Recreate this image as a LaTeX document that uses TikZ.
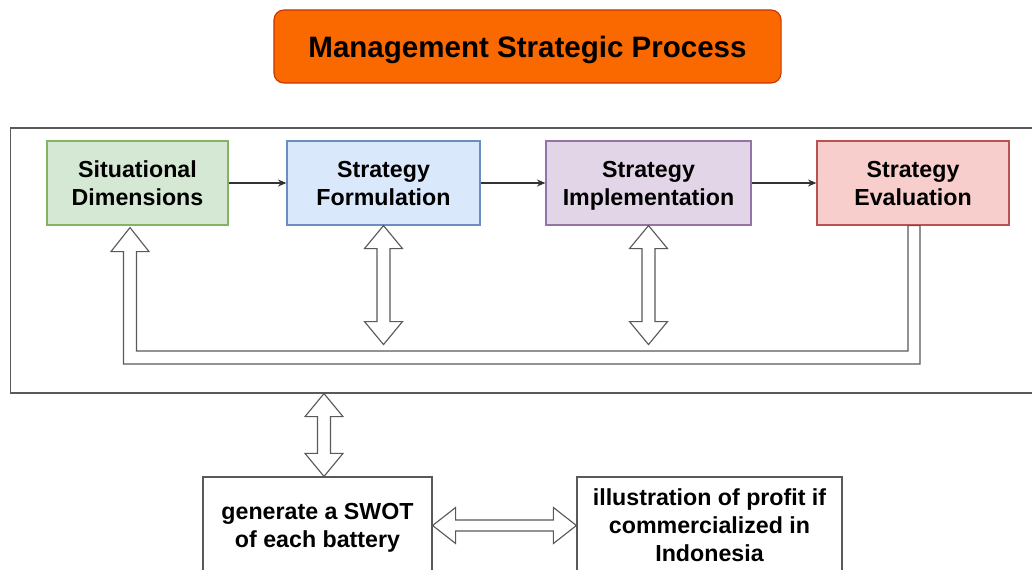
\documentclass[tikz,border=0pt]{standalone}
\usepackage{fontspec}
\setmainfont{Liberation Sans}
\usepackage{tikz}
\usetikzlibrary{calc, arrows.meta}

\definecolor{titlefill}{HTML}{FA6800}
\definecolor{titledraw}{HTML}{C73500}
\definecolor{greenfill}{HTML}{D5E8D4}
\definecolor{greendraw}{HTML}{82B366}
\definecolor{bluefill}{HTML}{DAE8FC}
\definecolor{bluedraw}{HTML}{6C8EBF}
\definecolor{purplefill}{HTML}{E1D5E7}
\definecolor{purpledraw}{HTML}{9673A6}
\definecolor{redfill}{HTML}{F8CECC}
\definecolor{reddraw}{HTML}{B85450}
\definecolor{framegray}{HTML}{595959}

\tikzset{
  box/.style={draw, line width=0.8pt, inner sep=0pt, align=center, text depth=0pt,
    font=\bfseries\fontsize{16.5}{19.9}\selectfont, minimum height=2.1cm},
  flex/.style={draw=framegray, fill=white, line width=0.8pt, line join=miter},
  link/.style={draw=black!80, line width=0.8pt, -{Stealth[length=6pt,width=5pt]}}
}

\begin{document}
\begin{tikzpicture}[x=0.025cm, y=-0.025cm]
	\useasboundingbox (0,0) rectangle (1032,570);

	\node[box, fill=titlefill, draw=titledraw, rounded corners=0.25cm, minimum width=12.675cm, minimum height=1.825cm,
	      font=\bfseries\fontsize{21}{25}\selectfont]   (title)  at (527.5,46.5)  {Management Strategic Process};

	\node[draw=framegray, line width=0.8pt, minimum width=25.85cm, minimum height=6.625cm, inner sep=0pt]
	                                                   (frame)  at (528,260.5)   {};

	\node[box, fill=greenfill,  draw=greendraw,  minimum width=4.525cm]  (sit)   at (137.5,183)  {Situational\\Dimensions};
	\node[box, fill=bluefill,   draw=bluedraw,   minimum width=4.825cm]  (form)  at (383.5,183)  {Strategy\\Formulation};
	\node[box, fill=purplefill, draw=purpledraw, minimum width=5.125cm]  (impl)  at (648.5,183)  {Strategy\\Implementation};
	\node[box, fill=redfill,    draw=reddraw,    minimum width=4.8cm]    (eval)  at (913,183)    {Strategy\\Evaluation};

	\node[box, draw=framegray, minimum width=5.725cm, minimum height=2.425cm]  (swot)   at (317.5,525.5)  {generate a SWOT\\of each battery};
	\node[box, draw=framegray, minimum width=6.625cm, minimum height=2.425cm]  (profit) at (709.5,525.5)  {illustration of profit if\\commercialized in\\Indonesia};

	\path[link]
			(sit)  edge  (form)
			(form) edge  (impl)
			(impl) edge  (eval);

	% feedback loop from evaluation back to situational dimensions
	\coordinate (fbA) at ($(eval.south)+(1,0)$);
	\coordinate (fbB) at ($(sit.south)+(-7.5,2)$);
	\coordinate (fbY) at (0,357.5);
	\draw[flex] ($(fbA)+(6,0)$) -- ($(fbA |- fbY)+(6,6.5)$) -- ($(fbB |- fbY)+(-6.5,6.5)$)
		-- ($(fbB)+(-6.5,24)$) -- ($(fbB)+(-19,24)$) -- (fbB) -- ($(fbB)+(19,24)$) -- ($(fbB)+(6.5,24)$)
		-- ($(fbB |- fbY)+(6.5,-6.5)$) -- ($(fbA |- fbY)+(-6,-6.5)$) -- ($(fbA)+(-6,0)$) -- cycle;

	% double arrows
	\coordinate (formEnd) at ($(form.south)+(0,119)$);
	\coordinate (implEnd) at ($(impl.south)+(0,119)$);
	\coordinate (swotIn) at ($(swot.north)+(6.5,0)$);
	\coordinate (frameOut) at (frame.south -| swotIn);
	\foreach \top/\bot in {form.south/formEnd, impl.south/implEnd, frameOut/swotIn}
		\draw[flex] (\top) -- ($(\top)+(19,23)$) -- ($(\top)+(6.5,23)$) -- ($(\bot)+(6.5,-23)$) -- ($(\bot)+(19,-23)$)
			-- (\bot) -- ($(\bot)+(-19,-23)$) -- ($(\bot)+(-6.5,-23)$) -- ($(\top)+(-6.5,23)$) -- ($(\top)+(-19,23)$) -- cycle;
	\draw[flex] (swot.east) -- ($(swot.east)+(23,-18)$) -- ($(swot.east)+(23,-5.5)$) -- ($(profit.west)+(-23,-5.5)$)
		-- ($(profit.west)+(-23,-18)$) -- (profit.west) -- ($(profit.west)+(-23,18)$) -- ($(profit.west)+(-23,5.5)$)
		-- ($(swot.east)+(23,5.5)$) -- ($(swot.east)+(23,18)$) -- cycle;
\end{tikzpicture}
\end{document}
